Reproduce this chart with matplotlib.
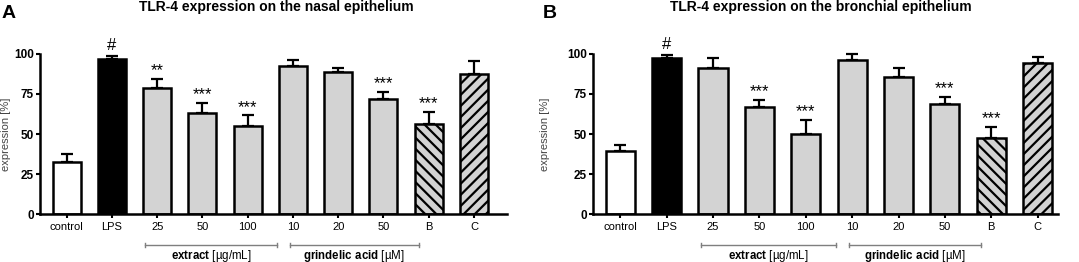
import numpy as np
import matplotlib.pyplot as plt
import matplotlib.transforms as mtransforms

plt.rcParams['font.family'] = ['Liberation Sans', 'DejaVu Sans']
plt.rcParams['mathtext.fontset'] = 'custom'
plt.rcParams['mathtext.rm'] = 'Liberation Sans'
plt.rcParams['mathtext.bf'] = 'Liberation Sans:bold'
plt.rcParams['hatch.linewidth'] = 1.6

# Data
categories = ["control", "LPS", "25", "50", "100", "10", "20", "50", "B", "C"]
nasal_mean = [32.5, 97.0, 78.5, 63.0, 55.3, 92.5, 89.0, 72.0, 56.5, 87.8]
nasal_err = [5.0, 1.5, 6.0, 6.3, 6.3, 3.8, 2.5, 4.0, 7.2, 7.8]
nasal_marks = ["", "#", "**", "***", "***", "", "", "***", "***", ""]
bronch_mean = [39.6, 97.3, 91.0, 66.7, 50.2, 96.0, 85.6, 68.7, 47.5, 94.2]
bronch_err = [3.7, 2.1, 6.3, 4.5, 8.5, 4.0, 5.4, 4.3, 6.9, 4.1]
bronch_marks = ["", "#", "", "***", "***", "", "", "***", "***", ""]

yticks = [0, 25, 50, 75, 100]
face_colors = ["white", "black"] + ["#d3d3d3"] * 8
hatches = [None] * 8 + ["\\\\\\", "///"]
groups = [("$\\bf{extract}$ [µg/mL]", 1.73, 4.65),
          ("$\\bf{grindelic\\ acid}$ [µM]", 4.93, 7.78)]

W, H = 1079, 262
fig = plt.figure(figsize=(W / 100, H / 100), dpi=100)


def draw_panel(ax, means, errs, marks, xlim, width, ylab_px):
    x = np.arange(len(categories))
    for i in x:
        ax.bar(i, means[i], width=width, color=face_colors[i], edgecolor="black",
               linewidth=1.8, hatch=hatches[i], zorder=2)
        ax.errorbar(i, means[i], yerr=[[0], [errs[i]]], fmt="none", ecolor="black",
                    elinewidth=1.6, capsize=4.5, capthick=1.6, clip_on=False, zorder=1)
        if marks[i] == "#":
            ax.text(i, means[i] + errs[i] + 2, marks[i], ha="center", va="bottom",
                    fontsize=12, clip_on=False)
        elif marks[i]:
            ax.text(i, means[i] + errs[i] + 0.5, marks[i], ha="center", va="bottom",
                    fontsize=12, clip_on=False)
    ax.set_xlim(*xlim)
    ax.set_ylim(0, 100)
    ax.set_yticks(yticks)
    ax.set_xticks(x)
    ax.set_xticklabels(categories, fontsize=8)
    for lab in ax.get_yticklabels():
        lab.set_fontweight("bold")
        lab.set_fontsize(8.5)
    ax.tick_params(axis="y", width=1.5, length=3, pad=1.5, direction="out")
    ax.tick_params(axis="x", width=1.5, length=3, pad=3, direction="out")
    ax.spines["top"].set_visible(False)
    ax.spines["right"].set_visible(False)
    ax.spines["left"].set_linewidth(1.8)
    ax.spines["bottom"].set_linewidth(1.8)
    ax.set_ylabel("expression [%]", fontsize=8, color="#444444")
    ax.yaxis.set_label_coords(ylab_px / ax.get_position().width / W, 0.5)

    trans = mtransforms.blended_transform_factory(ax.transData, ax.transAxes)
    for label, x0, x1 in groups:
        ax.plot([x0, x1], [-0.194, -0.194], color="#7f7f7f", lw=1.0,
                transform=trans, clip_on=False)
        for xe in (x0, x1):
            ax.plot([xe, xe], [-0.18, -0.208], color="#7f7f7f", lw=1.0,
                    transform=trans, clip_on=False)
        ax.text((x0 + x1) / 2, -0.28, label, ha="center", va="baseline",
                fontsize=8.3, transform=trans)


ax_a = fig.add_axes([40 / W, 0.183, 467 / W, 0.611])
draw_panel(ax_a, nasal_mean, nasal_err, nasal_marks, (-0.59, 9.73), 0.62, -29)

ax_b = fig.add_axes([593 / W, 0.183, 465 / W, 0.611])
draw_panel(ax_b, bronch_mean, bronch_err, bronch_marks, (-0.59, 9.44), 0.63, -43)

# titles and panel letters
fig.text(276 / W, 1 - 7 / H, "TLR-4 expression on the nasal epithelium",
         fontsize=10, fontweight="bold", ha="center", va="center")
fig.text(821 / W, 1 - 7 / H, "TLR-4 expression on the bronchial epithelium",
         fontsize=10, fontweight="bold", ha="center", va="center")
fig.text(2 / W, 1 - 14 / H, "A", fontsize=14, fontweight="bold", ha="left", va="center")
fig.text(543 / W, 1 - 14 / H, "B", fontsize=14, fontweight="bold", ha="left", va="center")

fig.savefig("out.png", dpi=100)
